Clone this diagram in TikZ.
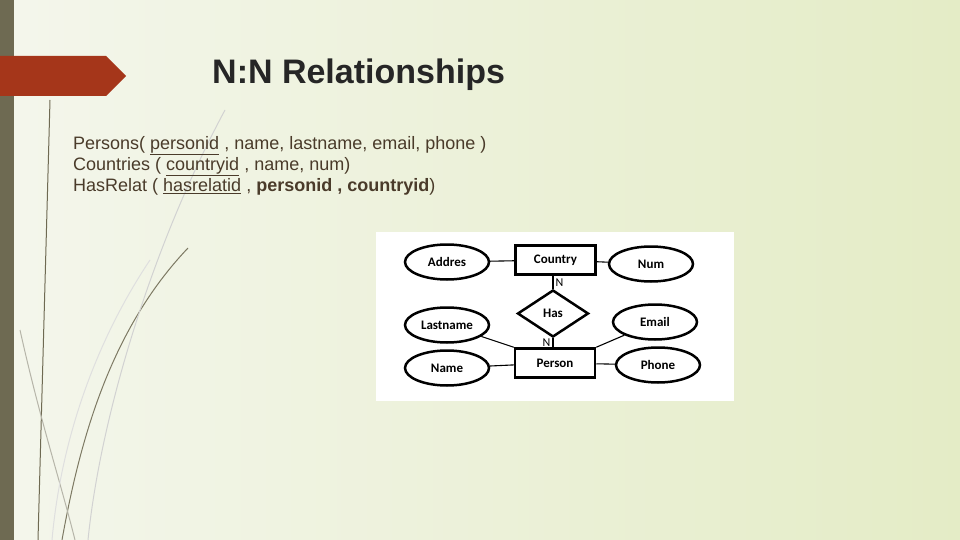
\documentclass[tikz,border=0pt]{standalone}
\usepackage{fontspec}
\setmainfont{Liberation Sans}
\newfontfamily\carl{Carlito}
\usetikzlibrary{shapes.geometric}
\definecolor{txt}{HTML}{4A3B2A}
\definecolor{bar}{HTML}{6E6A52}
\definecolor{redc}{HTML}{A5361A}
\definecolor{bgl}{HTML}{F4F6EC}
\definecolor{bgr}{HTML}{E4ECC6}
\begin{document}
\begin{tikzpicture}[x=1pt,y=-1pt,
  dfont/.style={font=\carl\bfseries\fontsize{13}{14}\selectfont},
  ent/.style={draw,line width=2.5pt,minimum width=80pt,minimum height=29pt,inner sep=0pt,dfont},
  att/.style={draw,ellipse,line width=2.5pt,minimum width=84pt,minimum height=35pt,inner sep=0pt,dfont},
  rel/.style={draw,diamond,aspect=1.5,line width=2.5pt,minimum width=71pt,minimum height=47pt,inner sep=0pt,dfont},
  ln/.style={line width=1.1pt},
  deco/.style={line width=1pt}]
\path[left color=bgl, right color=bgr] (0,0) rectangle (960,540);
\useasboundingbox (0,0) rectangle (960,540);
\fill[bar] (0,0) rectangle (14,540);
\fill[redc] (0,56) -- (106,56) -- (126,76) -- (106,96) -- (0,96) -- cycle;
% decorative lines
\draw[deco,color=bar] (50,100) -- (38,540);
\draw[deco,color=bar!90] (188,248) .. controls (110,330) and (80,440) .. (62,540);
\draw[deco,color=gray!35] (225,110) .. controls (150,250) and (100,420) .. (88,540);
\draw[deco,color=bar!50] (20,330) .. controls (40,420) and (60,480) .. (75,540);
\draw[deco,color=gray!25] (150,260) .. controls (90,350) and (60,450) .. (52,540);
\node[anchor=west,font=\bfseries\fontsize{34}{40}\selectfont,text=black!85,inner sep=0pt] (title) at (212,75) {N:N Relationships};
\node[anchor=north west,align=left,text=txt,font=\fontsize{18}{21}\selectfont,inner sep=0pt] (rel) at (73,136)
{Persons( \underline{personid} , name, lastname, email, phone )\\
Countries ( \underline{countryid} , name, num)\\
HasRelat ( \underline{hasrelatid} , \textbf{personid , countryid})};
\fill[white] (376,232) rectangle (734,401);
\node[ent] (country) at (555.5,260) {Country};
\node[ent] (person) at (555,363) {Person};
\node[rel] (has) at (553,313.5) {Has};
\node[att] (addres) at (447,262) {Addres};
\node[att] (num) at (651,264) {Num};
\node[att] (lastname) at (447,325) {Lastname};
\node[att] (email) at (655,322) {Email};
\node[att] (name) at (447,368) {Name};
\node[att] (phone) at (658,365) {Phone};
\draw[ln] (addres) -- (country);
\draw[ln] (country) -- (num);
\draw[ln] (country.south -| has.north) -- (has.north) node[pos=0.5,right,inner sep=2pt,font=\carl\fontsize{12}{13}\selectfont] {N};
\draw[ln] (has.south) -- (has.south |- person.north) node[pos=0.5,left,inner sep=2pt,font=\carl\fontsize{12}{13}\selectfont] {N};
\draw[ln] (lastname) -- (person.north west);
\draw[ln] (email) -- (person.north east);
\draw[ln] (name) -- (person);
\draw[ln] (person) -- (phone);
\end{tikzpicture}
\end{document}
